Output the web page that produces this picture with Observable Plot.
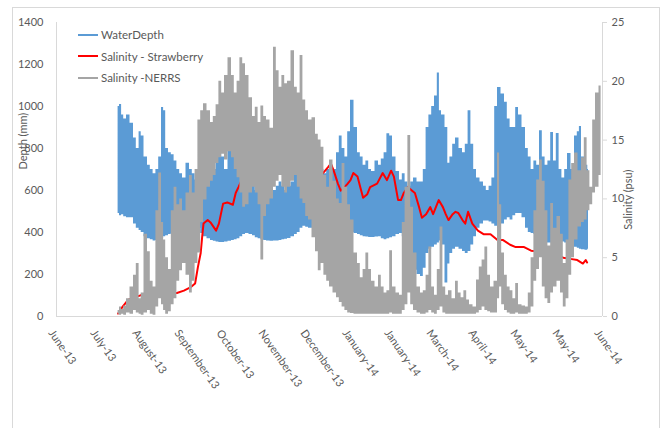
<!DOCTYPE html>
<html><head><meta charset="utf-8">
<script src="https://cdn.jsdelivr.net/npm/d3@7"></script>
<script src="https://cdn.jsdelivr.net/npm/@observablehq/plot@0.6"></script>
<style>
html,body{margin:0;padding:0;background:#fff;}
#wrap{position:relative;width:667px;height:428px;overflow:hidden;font-family:Lato,"Open Sans",sans-serif;}
#border{position:absolute;left:12px;top:7px;width:648px;height:440px;border:1px solid #d9d9d9;box-sizing:border-box;}
#chart{position:absolute;left:0;top:0;}
#legend{position:absolute;left:78px;top:24px;font-size:11.5px;color:#595959;}
.item{display:flex;align-items:center;height:21.5px;white-space:nowrap;}
.swatch{width:20px;height:2px;margin-right:3px;}
</style>
</head><body>
<div id="wrap"><div id="border"></div><div id="chart"></div><div id="legend"></div></div>
<script>
// x axis: days since 5 June 2013, Excel date axis with 30-day major unit
const xTickDays = [0,30,60,90,120,150,180,210,240,270,300,330,360,390];
const xTickLabels = ["June-13","July-13","August-13","September-13","October-13","November-13","December-13","January-14","January-14","March-14","April-14","May-14","May-14","June-14"];
const depthTicks = [0,200,400,600,800,1000,1200,1400];
const salinityTicks = [0,5,10,15,20,25];

const seriesNames = ["WaterDepth","Salinity - Strawberry","Salinity -NERRS"];
const seriesColors = ["#5b9bd5","#ff0000","#a5a5a5"];

// WaterDepth (mm): tidal band, lower and upper envelope
const depthDay = [
44,46,47,49,51,54,56,58,60,61,
64,66,68,70,72,74,76,77,79,81,
83,85,87,89,91,94,96,98,100,102,
104,106,109,111,113,115,117,119,121,124,
126,128,130,132,134,136,139,141,143,145,
147,149,151,154,156,158,160,162,164,166,
169,171,173,175,177,179,181,184,186,188,
190,192,194,196,199,201,203,205,207,209,
211,214,216,218,220,222,224,226,229,231,
233,235,237,239,241,244,246,248,250,252,
254,256,259,261,263,265,267,269,271,273,
274,276,279,280,282,284,286,289,291,293,
295,297,299,301,304,306,308,310,312,314,
316,319,321,323,325,327,329,331,334,336,
338,340,342,344,346,348,350,352,354,356,
358,360,362,364,366,369,371,373,374,376,
379,380];
const depthLow = [
490,480,485,475,470,470,440,420,410,400,
380,370,365,360,362,365,370,380,385,390,
395,400,410,420,430,440,460,465,450,420,
395,380,370,362,358,355,352,352,355,358,
362,365,370,380,390,395,390,385,375,370,
365,362,360,358,360,360,362,365,368,372,
380,390,400,420,430,425,420,420,420,415,
410,405,400,400,400,395,390,400,410,410,
400,395,390,385,380,378,376,376,378,380,
370,365,370,375,380,390,395,380,350,300,
260,220,200,190,230,300,320,330,340,350,
360,340,160,250,300,320,330,320,310,300,
310,340,380,420,440,455,455,450,440,430,
420,440,460,470,460,480,490,490,470,420,
400,395,390,370,350,348,350,350,350,352,
352,355,355,350,350,345,330,325,320,318,
315,320];
const depthHigh = [
1000,1010,960,940,960,920,850,800,880,860,
760,720,700,680,700,760,995,980,800,780,
770,740,700,680,660,730,700,680,650,700,
760,850,780,720,700,760,800,760,700,820,
860,800,780,1010,950,700,640,620,600,590,
600,620,640,620,600,620,640,620,600,620,
640,680,740,740,720,700,690,700,710,800,
700,680,700,720,700,780,860,800,760,880,
1030,900,780,760,720,740,700,690,740,720,
750,780,870,860,760,690,650,680,640,620,
640,660,640,640,700,900,960,1000,1050,1160,
980,960,900,730,760,820,850,800,780,820,
980,820,700,660,640,620,600,620,660,1000,
1090,1060,1020,940,900,900,995,960,900,800,
760,700,740,720,885,760,720,740,876,740,
871,700,660,700,776,700,860,880,905,760,
720,700];

// Salinity - Strawberry (psu)
const strawDay = [
44,47,51,55,60,65,69,73,76,81,
86,91,96,99,101,103,104,105,108,110,
114,116,119,122,126,128,130,133,135,139,
142,146,148,151,153,155,158,162,167,169,
172,174,184,185,189,194,196,198,201,203,
205,208,210,212,215,217,219,222,224,229,
233,235,236,239,241,244,246,248,251,254,
256,259,261,264,267,269,273,276,278,280,
283,285,287,290,292,294,297,301,305,310,
315,319,324,328,331,334,339,346,353,358,
362,367,372,376,378,379];
const strawSal = [
0.25,0.8,1.4,1.6,1.8,1.9,2.0,1.8,1.9,2.0,
2.0,2.2,2.5,2.8,4.2,5.4,6.7,7.9,8.2,8.0,
7.3,7.9,9.6,9.7,9.5,10.5,11.0,11.8,12.4,11.9,
11.5,11.3,11.0,11.6,12.2,12.7,13.3,13.0,13.0,13.3,
14.1,14.7,12.2,11.9,12.0,12.7,13.0,12.4,11.3,10.7,
10.9,11.3,11.6,12.2,11.9,11.0,10.1,10.4,11.0,11.3,
12.2,11.8,11.6,12.4,11.9,9.9,9.9,10.5,11.0,10.7,
10.5,9.3,8.4,8.7,9.3,8.7,9.9,9.3,8.7,8.2,
8.7,8.9,8.8,8.2,7.9,8.9,7.9,7.3,7.0,7.0,
6.5,6.5,6.1,5.9,5.9,5.9,5.6,5.5,5.4,5.2,
5.0,4.9,4.8,4.5,4.8,4.6];

// Salinity - NERRS (psu): lower and upper envelope of the dense record
const nerrsDay = [
44,46,47,49,51,54,56,58,60,61,
64,66,68,70,72,74,76,77,79,81,
83,85,87,89,91,94,96,98,100,102,
104,106,109,111,113,115,117,119,121,124,
126,128,130,132,134,136,139,141,143,145,
147,149,151,154,156,158,160,162,164,166,
169,171,173,175,177,179,181,184,186,188,
190,192,194,196,199,201,203,205,207,209,
211,214,216,218,220,222,224,226,229,231,
233,235,237,239,241,244,246,248,250,252,
254,256,259,261,263,265,267,269,271,273,
275,277,279,281,284,286,288,290,292,294,
296,299,301,303,305,307,309,311,314,316,
317,319,321,323,325,327,329,331,334,336,
338,340,342,344,346,348,350,352,354,356,
359,361,363,365,367,369,371,374,376,378,
380,382,384,386,389];
const nerrsLow = [
0.2,0.1,0.2,0.1,0.3,0.2,0.5,0.3,0.2,0.1,
0.3,0.5,0.2,0.1,0.8,1.5,1.0,0.5,0.2,0.4,
1.0,1.5,3.0,3.9,4.5,3.5,2.0,3.0,4.5,5.4,
8.0,9.9,11.0,11.5,12.0,13.0,13.5,13.8,13.3,14.0,
13.5,12.5,11.8,10.5,9.3,9.5,10.5,11.0,10.5,9.5,
4.8,8.5,9.5,10.0,11.0,11.5,12.0,11.0,10.5,11.0,
11.5,12.0,11.0,10.0,9.6,8.5,8.2,6.7,5.5,3.9,
4.5,3.5,3.0,2.5,2.0,1.6,1.2,0.8,0.5,0.3,
0.25,0.2,0.2,0.2,0.2,0.2,0.2,0.2,0.2,0.2,
0.2,0.2,0.2,0.3,0.2,0.2,0.2,0.5,1.0,2.0,
1.0,0.5,0.3,0.2,0.2,0.3,0.5,0.3,0.2,0.5,
0.8,0.3,0.2,0.2,0.2,0.2,0.2,0.2,0.2,0.2,
0.2,0.2,0.3,0.5,0.8,0.5,0.4,0.3,0.3,1.5,
2.5,1.0,0.5,0.3,0.2,0.2,0.3,0.2,0.2,0.2,
0.3,0.8,3.0,4.0,5.0,2.5,1.5,1.1,2.0,2.5,
3.0,2.0,0.8,1.5,3.5,5.0,6.5,7.6,8.0,8.2,
9.0,9.5,10.5,11.0,12.0];
const nerrsHigh = [
0.5,0.8,0.6,0.9,1.5,2.5,3.5,4.5,1.5,2.0,
7.0,5.5,3.0,2.5,9.0,12.2,8.0,6.5,5.0,4.0,
9.0,11.0,9.5,10.0,9.0,10.5,12.0,10.5,12.5,16.7,
17.5,18.1,17.5,16.5,17.0,18.0,20.0,19.0,20.5,22.0,
20.5,19.0,20.0,22.0,21.5,20.5,18.6,17.0,17.8,16.5,
17.9,17.0,16.7,16.0,22.9,20.9,19.5,20.5,19.8,20.0,
22.6,19.5,19.0,22.2,18.4,17.5,16.7,16.9,15.5,15.0,
14.4,12.0,11.0,13.3,11.5,10.0,9.6,13.0,11.0,9.5,
8.2,5.4,4.5,3.3,4.0,5.4,4.0,3.0,2.5,3.5,
2.5,2.0,2.2,5.6,2.5,2.0,1.8,8.0,11.0,15.4,
9.3,5.4,2.5,2.0,2.2,3.5,5.9,2.5,1.8,4.0,
7.6,2.5,1.8,2.2,1.5,3.0,2.0,1.6,2.2,1.4,
1.0,0.8,3.1,4.2,4.8,5.9,3.5,2.5,3.0,13.9,
9.5,5.4,3.5,2.5,2.2,1.5,2.8,1.0,0.9,0.8,
2.0,5.0,9.0,11.6,13.3,11.5,9.0,6.0,9.6,7.5,
8.5,7.0,4.5,6.5,11.6,13.0,13.9,12.4,13.5,15.2,
12.4,11.0,16.7,19.0,19.6];

// shared vertical scale: salinity axis max maps onto depth axis max
const K = depthTicks[depthTicks.length - 1] / salinityTicks[salinityTicks.length - 1];
const depthIdx = d3.range(depthDay.length);
const strawIdx = d3.range(strawDay.length);
const nerrsIdx = d3.range(nerrsDay.length);
const txt = "#595959";

const chart = Plot.plot({
  width: 667, height: 428,
  marginLeft: 56, marginRight: 65, marginTop: 22, marginBottom: 112,
  style: {fontFamily: "Lato, 'Open Sans', sans-serif", fontSize: "11px", color: txt, background: "transparent"},
  x: {domain: [xTickDays[0], xTickDays[xTickDays.length - 1]], axis: null},
  y: {domain: [0, depthTicks[depthTicks.length - 1]], axis: null},
  marks: [
    Plot.ruleX([xTickDays[0]], {stroke: "#d9d9d9"}),
    Plot.ruleX([xTickDays[xTickDays.length - 1]], {stroke: "#d9d9d9"}),
    Plot.areaY(depthIdx, {x: i => depthDay[i], y1: i => depthLow[i], y2: i => depthHigh[i], fill: seriesColors[0], curve: "step"}),
    Plot.lineY(strawIdx, {x: i => strawDay[i], y: i => strawSal[i] * K, stroke: seriesColors[1], strokeWidth: 2}),
    Plot.areaY(nerrsIdx, {x: i => nerrsDay[i], y1: i => nerrsLow[i] * K, y2: i => nerrsHigh[i] * K, fill: seriesColors[2], curve: "step"}),
    Plot.ruleY([0], {stroke: "#d9d9d9"}),
    Plot.axisY(depthTicks, {anchor: "left", tickSize: 0, tickPadding: 13, label: null, fill: txt, fontSize: 11, tickFormat: v => String(v)}),
    Plot.axisY(salinityTicks.map(v => v * K), {anchor: "right", tickSize: 4, tickPadding: 5, stroke: "#d9d9d9", fill: txt, label: null, fontSize: 11, tickFormat: v => String(Math.round(v / K))}),
    Plot.text(xTickDays, {x: d => d, frameAnchor: "bottom", text: (d, i) => xTickLabels[i], rotate: 55, textAnchor: "start", lineAnchor: "top", dx: -2, dy: 12, fill: txt, fontSize: 11}),
    Plot.text(["Depth (mm)"], {frameAnchor: "left", dx: -33, rotate: -90, text: d => d, fill: txt, fontSize: 11}),
    Plot.text(["Salinity (psu)"], {frameAnchor: "right", dx: 26, rotate: -90, text: d => d, fill: txt, fontSize: 11})
  ]
});
document.getElementById("chart").appendChild(chart);

const legend = document.getElementById("legend");
seriesNames.forEach((name, i) => {
  const row = document.createElement("div");
  row.className = "item";
  const sw = document.createElement("span");
  sw.className = "swatch";
  sw.style.background = seriesColors[i];
  const label = document.createElement("span");
  label.textContent = name;
  row.appendChild(sw); row.appendChild(label);
  legend.appendChild(row);
});
</script>
</body></html>
